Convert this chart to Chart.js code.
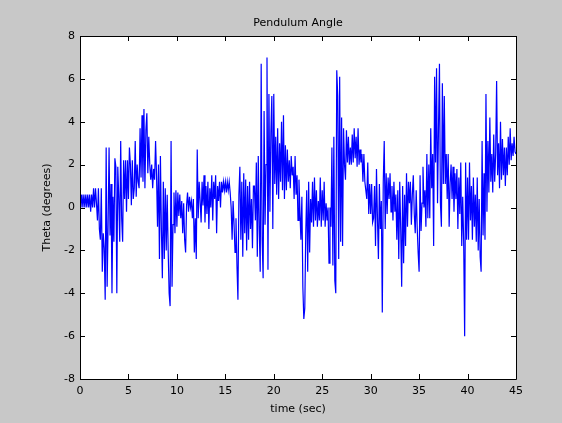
<!DOCTYPE html>
<html>
<head>
<meta charset="utf-8">
<script src="https://cdn.jsdelivr.net/npm/chart.js@4"></script>
<style>
  html, body { margin: 0; padding: 0; background: #c8c8c8; }
  canvas { display: block; }
</style>
</head>
<body>
<canvas id="pendulum-chart" width="562" height="423"></canvas>
<script>
// pendulum angle sampled every 0.1 s, degrees (one row per second)
const sampleStep = 0.1;
const thetaDeg = [
  0.6, 0.0, 0.6, 0.0, 0.6, 0.0, 0.6, 0.0, 0.6, 0.0,
  0.6, -0.2, 0.6, 0.0, 0.9, 0.0, 0.9, 0.2, -0.6, 0.9,
  -1.0, -1.5, 0.9, -3.0, -1.2, -1.9, -4.3, 2.8, -3.7, -0.8,
  2.8, -1.3, 1.1, -4.0, 0.5, -1.6, 2.3, 1.9, -4.0, 1.9,
  0.5, -1.6, 3.1, -0.5, -1.6, 2.2, 0.4, 2.2, -0.2, 2.2,
  0.4, 2.8, 2.0, 0.1, 2.2, 0.4, 0.9, 3.1, 0.5, 2.0,
  1.2, 0.9, 3.7, 1.4, 4.3, 1.2, 4.6, 0.9, 3.6, 4.4,
  1.6, 3.3, 2.0, 1.3, 2.0, 0.9, 1.8, 1.3, 3.1, 1.5,
  -0.9, 2.0, -2.4, 2.4, -1.0, -3.3, 1.2, -2.4, 0.9, -2.0,
  0.6, -2.0, -4.0, -4.6, 3.1, -3.7, -0.8, 0.7, -1.2, 0.8,
  -0.9, 0.7, -0.4, 0.6, -0.5, 0.3, -1.2, 0.2, -1.5, -2.1,
  0.1, 0.7, -0.2, 0.5, 0.0, 0.3, -0.5, 0.4, -2.1, -0.5,
  -2.4, 2.7, -0.5, 1.2, 0.3, -0.7, 1.2, 0.1, 1.5, -0.7,
  1.0, -0.3, 1.2, -1.0, 0.9, 0.0, 1.5, -0.6, 1.2, 0.4,
  1.5, -1.2, 1.0, 0.3, 1.2, 0.0, 1.2, 0.7, 1.2, 0.8,
  1.2, 0.7, 1.2, 0.8, 1.2, 0.7, 0.0, -1.5, 0.3, -0.8,
  -2.1, -0.5, -2.7, -4.3, 0.6, 1.9, -1.5, 1.2, -2.3, 1.6,
  -1.2, 1.3, -2.0, 1.0, -1.5, 1.2, -1.0, 0.4, -1.9, 1.0,
  1.0, -0.6, 2.1, -2.3, 2.4, -1.0, -3.0, 6.7, -1.5, -3.3,
  4.5, -0.8, 2.0, 7.0, -2.9, 5.3, -0.2, 3.5, 5.2, -1.0,
  5.3, 1.1, 3.3, 0.6, 3.7, 0.4, 3.0, 1.2, 4.0, 0.8,
  4.3, 0.4, 2.9, 0.8, 2.7, 1.2, 2.2, 0.9, 2.4, 1.5,
  1.9, 0.4, 2.4, 0.6, 1.5, -0.6, 1.3, -0.2, -1.5, 0.5,
  -3.7, -5.2, -4.7, -1.2, 0.8, -3.0, 1.2, -2.1, 0.4, -0.7,
  1.2, -0.9, 1.4, -0.6, 0.8, -0.9, 0.3, -0.6, 1.4, -0.9,
  0.8, -0.6, 1.2, -0.9, 0.2, -0.6, 0.0, -2.6, 0.0, -0.9,
  2.8, -2.7, 3.3, -3.4, -4.0, 6.4, 5.2, -2.4, 6.1, -1.6,
  4.2, -1.8, 3.7, 2.0, 1.3, 3.6, 2.1, 3.3, 2.0, 2.8,
  2.0, 3.4, 2.1, 3.7, 2.3, 3.3, 1.9, 3.7, 2.0, 2.7,
  2.1, 2.5, 1.2, 2.5, 1.2, 0.8, 0.4, 2.1, -0.3, 1.1,
  -0.3, 1.1, -0.7, -0.5, 1.0, -1.8, 1.8, -0.5, -2.4, 1.1,
  -1.0, 0.3, -4.9, 1.2, 3.1, -1.0, 1.6, -0.3, 1.4, 0.4,
  1.6, -0.2, 1.0, -0.6, 1.2, -0.2, 0.6, -1.5, 0.8, -2.4,
  1.2, -1.0, -3.7, 1.0, -2.6, 0.6, -1.8, 1.6, -0.9, 1.2,
  0.2, 1.2, -0.8, 0.6, 1.5, -0.3, -1.2, 0.8, -0.9, -2.1,
  -3.0, 1.5, -1.1, 0.2, 1.9, 0.0, 0.8, -0.9, 2.5, -0.5,
  2.0, -0.5, 3.7, 0.9, 2.5, -1.8, 6.1, 2.1, 6.5, 0.2,
  3.7, 6.7, 0.2, -0.9, 5.8, 1.1, 5.2, 1.1, 2.5, 0.4,
  2.5, -0.9, 1.1, 2.0, 0.4, 1.9, -0.2, 1.6, 0.4, 1.8,
  -1.0, 1.4, -0.3, 2.1, -1.8, 0.5, -1.6, -6.0, 2.1, -1.5,
  1.4, -1.5, 2.1, -0.6, 1.0, -1.5, 1.4, -0.9, 0.6, -1.6,
  1.4, -2.0, 0.4, -2.3, -3.0, 3.1, -1.3, 1.6, -1.5, 5.3,
  -0.2, 3.1, 0.7, 4.2, 1.2, 2.5, 0.7, 3.4, 1.2, 2.5,
  5.9, 1.5, 3.0, 0.9, 4.0, 1.3, 3.2, 1.5, 2.8, 1.0,
  2.8, 1.5, 3.3, 2.0, 3.7, 2.2, 3.0, 2.4, 3.3, 2.6,
  2.5
];

const xTicks = [0, 5, 10, 15, 20, 25, 30, 35, 40, 45];
const yTicks = [-8, -6, -4, -2, 0, 2, 4, 6, 8];
const titleText = "Pendulum Angle";

const axisFont = { family: "'DejaVu Sans', sans-serif", size: 11 };

// grey figure, white axes box
const backdrop = {
  id: "backdrop",
  beforeDraw(chart) {
    const { ctx, chartArea: a } = chart;
    ctx.save();
    ctx.fillStyle = "#c8c8c8";
    ctx.fillRect(0, 0, chart.width, chart.height);
    ctx.fillStyle = "#ffffff";
    ctx.fillRect(a.left, a.top, a.right - a.left, a.bottom - a.top);
    ctx.restore();
  },
};

// box outline with inward ticks on all four sides, title centred over the axes
const axesBox = {
  id: "axesBox",
  afterDraw(chart) {
    const { ctx, chartArea: a, scales } = chart;
    const len = 5;
    ctx.save();
    ctx.strokeStyle = "#000000";
    ctx.lineWidth = 1;
    ctx.beginPath();
    ctx.rect(Math.round(a.left) + 0.5, Math.round(a.top) + 0.5,
      Math.round(a.right - a.left), Math.round(a.bottom - a.top));
    xTicks.forEach((t) => {
      const px = Math.round(scales.x.getPixelForValue(t)) + 0.5;
      ctx.moveTo(px, a.bottom);
      ctx.lineTo(px, a.bottom - len);
      ctx.moveTo(px, a.top);
      ctx.lineTo(px, a.top + len);
    });
    yTicks.forEach((t) => {
      const py = Math.round(scales.y.getPixelForValue(t)) + 0.5;
      ctx.moveTo(a.left, py);
      ctx.lineTo(a.left + len, py);
      ctx.moveTo(a.right, py);
      ctx.lineTo(a.right - len, py);
    });
    ctx.stroke();

    ctx.fillStyle = "#000000";
    ctx.font = `${axisFont.size}px ${axisFont.family}`;
    ctx.textAlign = "center";
    ctx.textBaseline = "middle";
    ctx.fillText(titleText, (a.left + a.right) / 2, a.top - 13);
    ctx.restore();
  },
};

new Chart(document.getElementById("pendulum-chart"), {
  type: "line",
  data: {
    datasets: [
      {
        label: "Theta",
        data: thetaDeg.map((v, i) => ({ x: +(i * sampleStep).toFixed(1), y: v })),
        borderColor: "#0000ff",
        borderWidth: 1.2,
        pointRadius: 0,
        tension: 0,
        fill: false,
      },
    ],
  },
  options: {
    responsive: false,
    animation: false,
    layout: { padding: { top: 36, right: 46, bottom: 0, left: 0 } },
    plugins: {
      legend: { display: false },
      tooltip: { enabled: false },
      title: { display: false },
    },
    scales: {
      x: {
        type: "linear",
        min: 0,
        max: 45,
        afterFit(scale) { scale.height = 44; },
        afterBuildTicks(scale) { scale.ticks = xTicks.map((v) => ({ value: v })); },
        grid: { display: false, drawTicks: false, tickLength: 0 },
        border: { display: false },
        ticks: { color: "#000000", font: axisFont, padding: 6, maxRotation: 0 },
        title: { display: true, text: "time (sec)", color: "#000000", font: axisFont, padding: 7 },
      },
      y: {
        min: -8,
        max: 8,
        afterFit(scale) { scale.width = 80; },
        afterBuildTicks(scale) { scale.ticks = yTicks.map((v) => ({ value: v })); },
        grid: { display: false, drawTicks: false, tickLength: 0 },
        border: { display: false },
        ticks: { color: "#000000", font: axisFont, padding: 5 },
        title: { display: true, text: "Theta (degrees)", color: "#000000", font: axisFont, padding: 41 },
      },
    },
  },
  plugins: [backdrop, axesBox],
});
</script>
</body>
</html>
